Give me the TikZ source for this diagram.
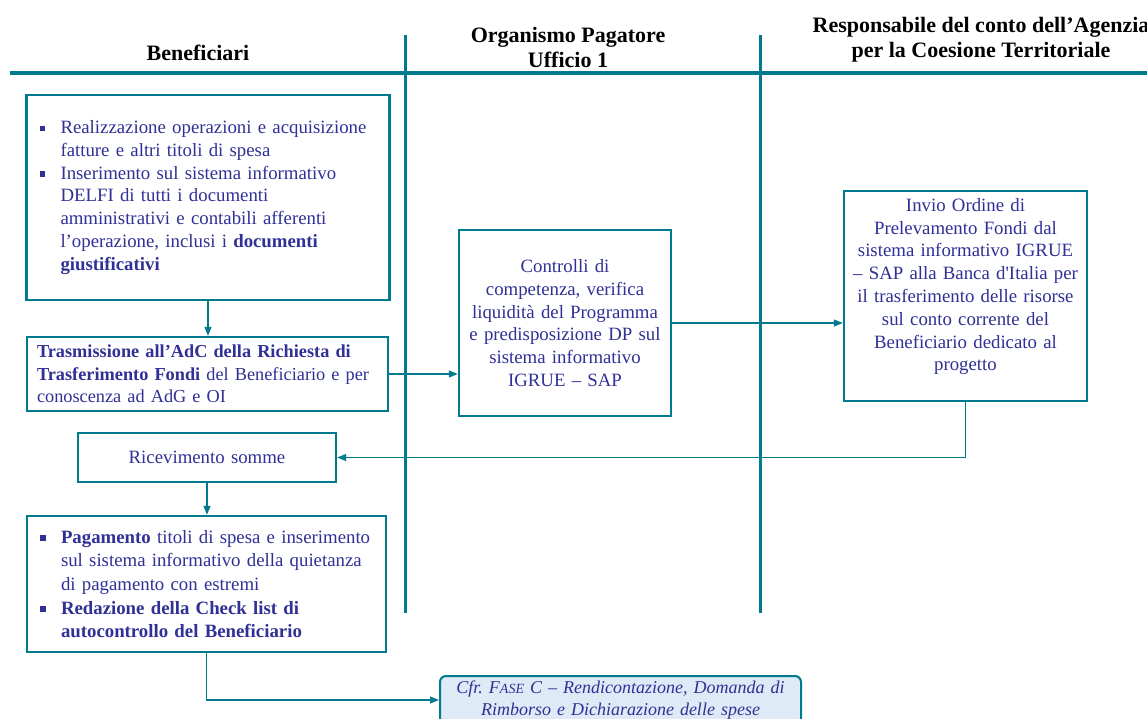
\documentclass[tikz,border=0pt]{standalone}
\usepackage{fontspec}
\setmainfont{Liberation Serif}
\usetikzlibrary{arrows.meta,positioning}
\definecolor{teal1}{RGB}{0,122,140}
\definecolor{txtblue}{RGB}{48,48,150}
\definecolor{lightfill}{RGB}{222,234,246}
\newcommand{\bul}{\makebox[21pt][l]{\raisebox{2.5pt}{\rule{5.5pt}{5.5pt}}}}
\newcommand{\ind}{\hspace*{21pt}}
\tikzset{
  x=1pt, y=-1pt,
  box/.style={draw=teal1, line width=2.4pt, fill=white, text=txtblue,
    font=\fontsize{18.8}{22.8}\selectfont, inner xsep=13pt, inner ysep=4pt},
  lbox/.style={box, align=left},
  cbox/.style={box, align=center},
  conn/.style={draw=teal1, line width=1.2pt, -{Triangle[length=9pt,width=7pt]}},
  lane/.style={draw=teal1, line width=3pt},
  head/.style={font=\fontsize{22}{25}\selectfont\bfseries, align=center, text=black},
}
\begin{document}
\begin{tikzpicture}
\frenchspacing
\useasboundingbox (0,0) rectangle (1147,718);
% lanes
\draw[lane, line width=4pt] (10,73) -- (1147,73);
\draw[lane] (405,35) -- (405,613);
\draw[lane] (760,35) -- (760,613);
% headers
\node[head] (h1) at (198,53) {Beneficiari};
\node[head] (h2) at (568,47) {Organismo Pagatore\\Ufficio 1};
\node[head] (h3) at (981,40) {Responsabile del conto dell’Agenzia\\per la Coesione Territoriale};
% boxes
\node[lbox, text width=337pt, minimum height=205pt] (b1) at (208,197.5)
{\bul Realizzazione operazioni e acquisizione\\
\ind fatture e altri titoli di spesa\\
\bul Inserimento sul sistema informativo\\
\ind DELFI di tutti i documenti\\
\ind amministrativi e contabili afferenti\\
\ind l’operazione, inclusi i \textbf{documenti}\\
\ind \textbf{giustificativi}};
\node[lbox, text width=341pt, inner xsep=10pt, minimum height=74pt,
  font=\fontsize{18.3}{22.6}\selectfont] (b2) at (207.5,374)
{\textbf{Trasmissione all’AdC della Richiesta di}\\
\textbf{Trasferimento Fondi} del Beneficiario e per\\
conoscenza ad AdG e OI};
\node[cbox, text width=200pt, inner xsep=6pt, minimum height=186pt] (b3) at (565,323)
{Controlli di\\competenza, verifica\\liquidità del Programma\\e predisposizione DP sul\\sistema informativo\\IGRUE – SAP};
\node[cbox, text width=231pt, inner xsep=6pt, minimum height=210pt] (b4) at (965.5,296)
{Invio Ordine di\\Prelevamento Fondi dal\\sistema informativo IGRUE\\– SAP alla Banca d\textquotesingle Italia per\\il trasferimento delle risorse\\sul conto corrente del\\Beneficiario dedicato al\\progetto\\\mbox{}};
\node[cbox, text width=246pt, inner xsep=6pt, minimum height=49pt] (b5) at (207,457.5)
{Ricevimento somme};
\node[lbox, text width=333pt, minimum height=136pt,
  font=\fontsize{18.8}{23.6}\selectfont] (b6) at (206.5,584)
{\bul \textbf{Pagamento} titoli di spesa e inserimento\\
\ind sul sistema informativo della quietanza\\
\ind di pagamento con estremi\\
\bul \textbf{Redazione della Check list di}\\
\ind \textbf{autocontrollo del Beneficiario}};
\node[box, align=center, fill=lightfill, rounded corners=6pt, line width=2pt,
  text width=345pt, inner xsep=8pt, minimum height=48pt,
  font=\fontsize{18}{22}\selectfont\itshape] (b7) at (620.5,700)
{Cfr. F{\fontsize{14}{22}\selectfont ASE} C – Rendicontazione, Domanda di\\Rimborso e Dichiarazione delle spese};
% connectors
\draw[conn] (b1.south) -- (b1.south |- b2.north);
\draw[conn] (b2.east) -- (b3.west |- b2.east);
\draw[conn] (b3.east) -- (b4.west |- b3.east);
\draw[conn] (b4.south) |- (b5.east);
\draw[conn] (b5.south) -- (b5.south |- b6.north);
\draw[conn] (b6.south) |- (b7.west);
\end{tikzpicture}
\end{document}
